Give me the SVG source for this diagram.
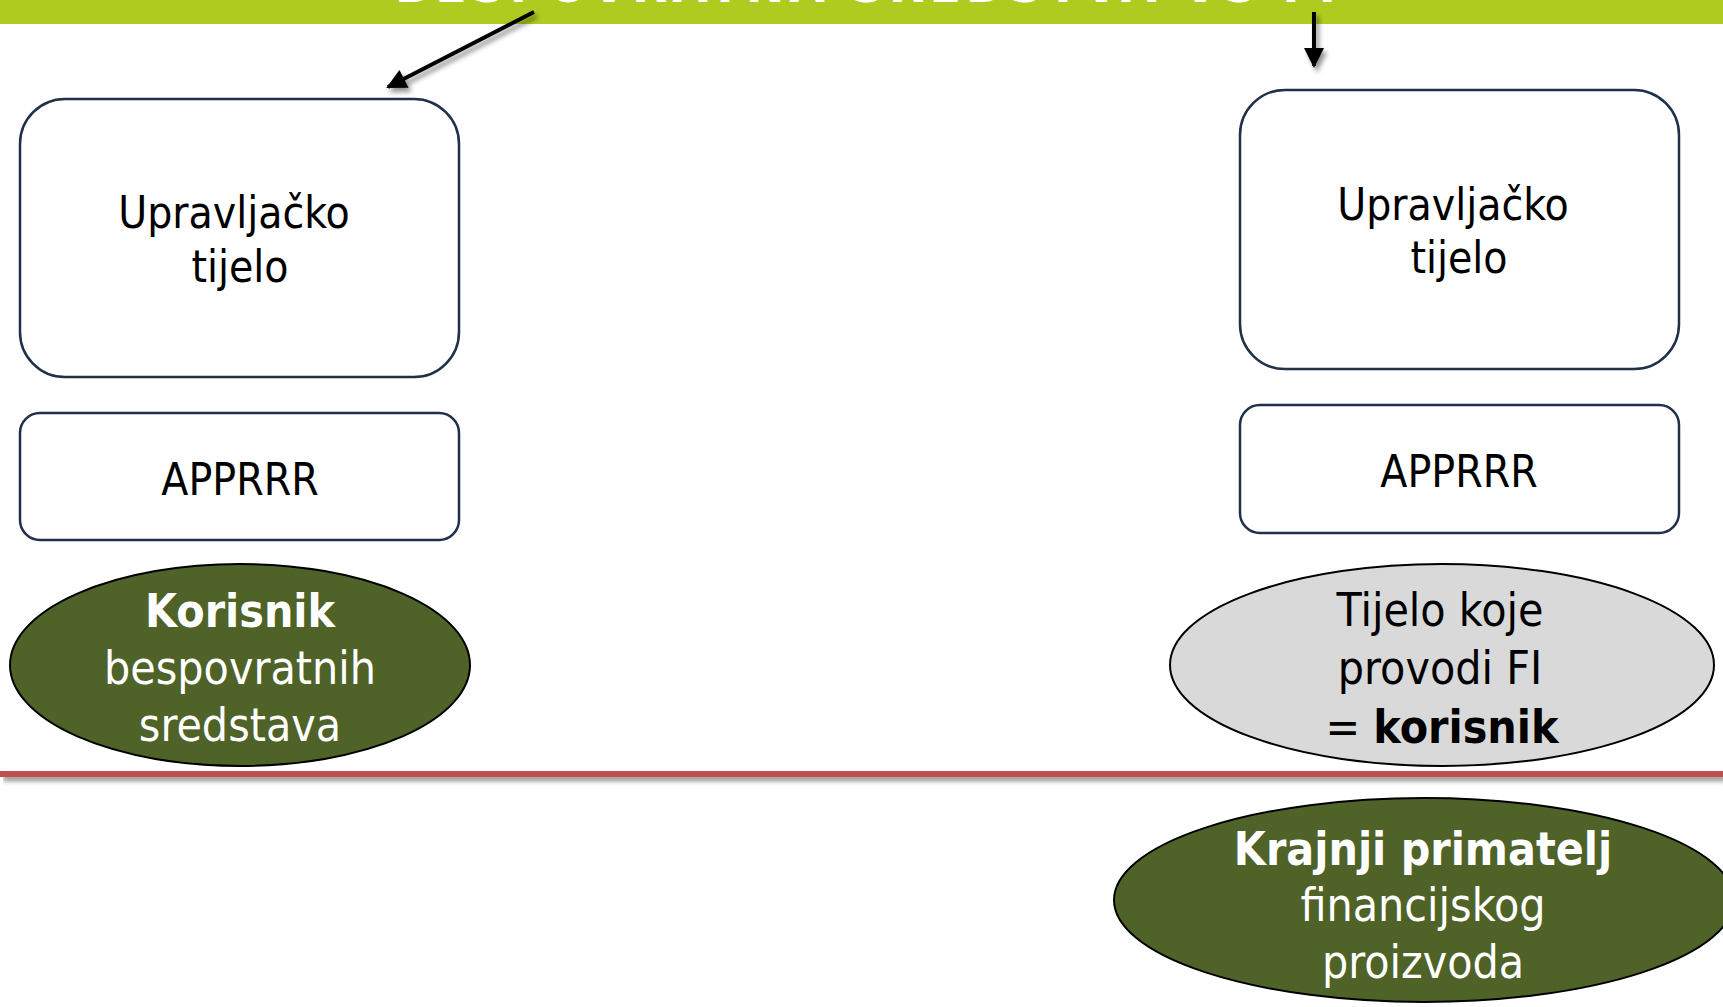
<svg xmlns="http://www.w3.org/2000/svg" width="1723" height="1007" viewBox="0 0 1723 1007">
<style>
.box{fill:#ffffff;stroke:#1f3048;stroke-width:2.5}
.el{stroke:#000000;stroke-width:2}
.green{fill:#4f6228}
.grey{fill:#d9d9d9}
.t{font-family:'DejaVu Sans Condensed','DejaVu Sans','Liberation Sans',sans-serif;font-stretch:condensed;font-size:44px;fill:#000;text-anchor:middle}
.te{font-family:'DejaVu Sans Condensed','DejaVu Sans','Liberation Sans',sans-serif;font-stretch:condensed;font-size:46px;text-anchor:middle}
.w{fill:#ffffff}
.k{fill:#000000}
.b{font-weight:bold}
.con{stroke:#000;stroke-width:4;fill:none}
</style>
<defs>
<filter id="sh" filterUnits="userSpaceOnUse" x="0" y="0" width="1723" height="1007">
<feGaussianBlur in="SourceAlpha" stdDeviation="2.5"/>
<feOffset dx="3" dy="4" result="o"/>
<feComponentTransfer><feFuncA type="linear" slope="0.45"/></feComponentTransfer>
<feMerge><feMergeNode/><feMergeNode in="SourceGraphic"/></feMerge>
</filter>
<marker id="ah" viewBox="0 0 10 10" refX="9" refY="5" markerWidth="6" markerHeight="5" markerUnits="strokeWidth" orient="auto">
<path d="M0,0 L10,5 L0,10 z" fill="#000"/>
</marker>
</defs>
<rect x="0" y="0" width="1723" height="1007" fill="#ffffff"/>
<g id="title-band">
<rect x="0" y="0" width="1723" height="24" fill="#b0cb20"/>
<text x="868" y="2" font-family="'DejaVu Sans','Liberation Sans',sans-serif" font-weight="bold" font-size="46" fill="#ffffff" text-anchor="middle" letter-spacing="5">BESPOVRATNA SREDSTVA VS FI</text>
</g>
<g id="divider">
<rect x="0" y="771" width="1723" height="6" fill="#c0504d" filter="url(#sh)"/>
</g>
<g id="connectors">
<line class="con" x1="534" y1="12" x2="388" y2="87" marker-end="url(#ah)" filter="url(#sh)"/>
<line class="con" x1="1314" y1="12" x2="1314" y2="66" marker-end="url(#ah)" filter="url(#sh)"/>
</g>
<g id="ut-left">
<rect class="box" x="20" y="99" width="439" height="278" rx="45" ry="45"/>
<text class="t" x="234" y="228">Upravljačko</text>
<text class="t" x="240" y="282">tijelo</text>
</g>
<g id="apprrr-left">
<rect class="box" x="20" y="413" width="439" height="127" rx="20" ry="20"/>
<text class="t" x="240" y="495">APPRRR</text>
</g>
<g id="korisnik-bs">
<ellipse class="el green" cx="240" cy="665" rx="230" ry="101"/>
<text class="te w b" x="240" y="627">Korisnik</text>
<text class="te w" x="240" y="684">bespovratnih</text>
<text class="te w" x="240" y="741">sredstava</text>
</g>
<g id="ut-right">
<rect class="box" x="1240" y="90" width="439" height="279" rx="45" ry="45"/>
<text class="t" x="1453" y="220">Upravljačko</text>
<text class="t" x="1459" y="273">tijelo</text>
</g>
<g id="apprrr-right">
<rect class="box" x="1240" y="405" width="439" height="128" rx="20" ry="20"/>
<text class="t" x="1459" y="487">APPRRR</text>
</g>
<g id="tijelo-fi">
<ellipse class="el grey" cx="1442" cy="665" rx="272" ry="101"/>
<text class="te k" x="1440" y="626">Tijelo koje</text>
<text class="te k" x="1440" y="684">provodi FI</text>
<text class="te k" x="1442" y="743">= <tspan class="b">korisnik</tspan></text>
</g>
<g id="krajnji-primatelj">
<ellipse class="el green" cx="1424" cy="900" rx="310" ry="102"/>
<text class="te w b" x="1423" y="865">Krajnji primatelj</text>
<text class="te w" x="1423" y="921">financijskog</text>
<text class="te w" x="1423" y="978">proizvoda</text>
</g>
</svg>
